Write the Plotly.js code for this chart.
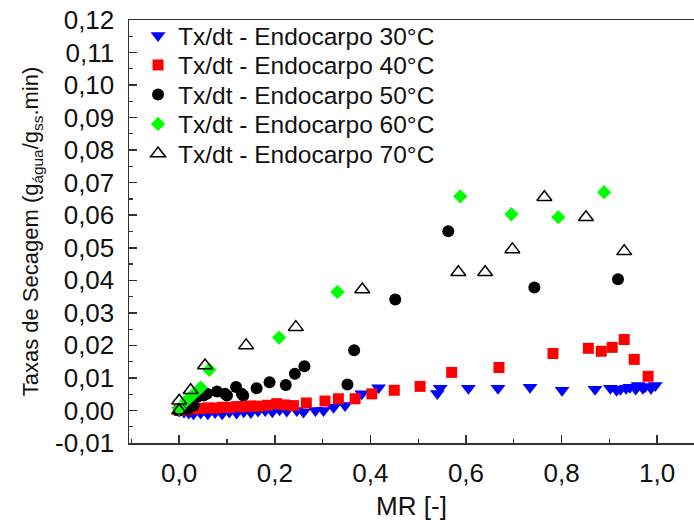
<!DOCTYPE html>
<html><head><meta charset="utf-8">
<script src="https://cdn.plot.ly/plotly-3.0.1.min.js"></script>
<style>html,body{margin:0;padding:0;background:#fff;overflow:hidden}</style>
</head><body><div id="chart" style="width:694px;height:527px"></div>
<script>
// 30°C
const mr30 = [0.000,0.010,0.020,0.030,0.045,0.060,0.075,0.090,0.105,0.120,0.135,0.150,0.165,0.180,0.195,0.210,0.225,0.246,0.260,0.285,0.302,0.323,0.347,0.382,0.417,0.540,0.546,0.605,0.667,0.734,0.801,0.870,0.902,0.915,0.923,0.935,0.943,0.955,0.960,0.970,0.975,0.987,0.996];
const tx30 = [0.0000,-0.0005,-0.0008,-0.0010,-0.0008,-0.0010,-0.0006,-0.0010,-0.0005,-0.0008,-0.0004,-0.0006,-0.0002,0.0000,-0.0004,0.0002,-0.0002,0.0000,-0.0005,0.0000,0.0000,0.0010,0.0015,0.0051,0.0070,0.0052,0.0068,0.0068,0.0068,0.0071,0.0062,0.0065,0.0068,0.0062,0.0065,0.0068,0.0071,0.0066,0.0077,0.0068,0.0074,0.0068,0.0077];
// 40°C
const mr40 = [0.000,0.015,0.030,0.045,0.060,0.075,0.090,0.105,0.120,0.135,0.150,0.165,0.185,0.204,0.220,0.239,0.266,0.305,0.333,0.368,0.403,0.450,0.504,0.570,0.669,0.782,0.856,0.883,0.906,0.931,0.952,0.981];
const tx40 = [0.0000,0.0002,0.0005,0.0006,0.0008,0.0007,0.0010,0.0009,0.0012,0.0011,0.0014,0.0013,0.0016,0.0021,0.0017,0.0015,0.0023,0.0029,0.0036,0.0036,0.0051,0.0062,0.0074,0.0117,0.0132,0.0175,0.0191,0.0182,0.0194,0.0218,0.0157,0.0105];
// 50°C
const mr50 = [0.000,0.019,0.030,0.037,0.051,0.058,0.079,0.096,0.100,0.119,0.131,0.134,0.162,0.189,0.223,0.242,0.262,0.352,0.366,0.452,0.563,0.743,0.918];
const tx50 = [0.0000,0.0005,0.0015,0.0041,0.0046,0.0051,0.0058,0.0051,0.0046,0.0072,0.0051,0.0046,0.0068,0.0087,0.0078,0.0113,0.0136,0.0080,0.0185,0.0341,0.0551,0.0378,0.0403];
// 60°C
const mr60 = [0.000,0.015,0.030,0.045,0.063,0.209,0.331,0.588,0.695,0.793,0.889];
const tx60 = [0.0005,0.0030,0.0050,0.0070,0.0125,0.0224,0.0364,0.0658,0.0603,0.0594,0.0671];
// 70°C
const mr70 = [0.000,0.000,0.024,0.054,0.140,0.244,0.383,0.584,0.640,0.697,0.764,0.851,0.931];
const tx70 = [0.0000,0.0030,0.0062,0.0138,0.0200,0.0256,0.0372,0.0425,0.0425,0.0495,0.0655,0.0594,0.0489];

const seriesNames = ['Tx/dt - Endocarpo 30°C','Tx/dt - Endocarpo 40°C','Tx/dt - Endocarpo 50°C','Tx/dt - Endocarpo 60°C','Tx/dt - Endocarpo 70°C'];
const yTickVals = [-0.01,0.00,0.01,0.02,0.03,0.04,0.05,0.06,0.07,0.08,0.09,0.10,0.11,0.12];
const yTickText = ['-0,01','0,00','0,01','0,02','0,03','0,04','0,05','0,06','0,07','0,08','0,09','0,10','0,11','0,12'];
const xTickVals = [0.0,0.2,0.4,0.6,0.8,1.0];
const xTickText = ['0,0','0,2','0,4','0,6','0,8','1,0'];

const FONT = 'Liberation Sans, Arial, sans-serif';
function tr(x, y, i, marker) {
  return {x: x, y: y, name: seriesNames[i], type: 'scatter', mode: 'markers', marker: marker, legendgroup: 'g' + i, cliponaxis: true};
}
const data = [
  tr(mr30, tx30, 0, {symbol: 'triangle-down', size: 13, color: '#0000ff', line: {width: 0}}),
  tr(mr40, tx40, 1, {symbol: 'square', size: 11, color: '#ff0000', line: {width: 0}}),
  tr(mr50, tx50, 2, {symbol: 'circle', size: 12, color: '#000000', line: {width: 0}}),
  tr(mr60, tx60, 3, {symbol: 'diamond', size: 11, color: '#00ff00', line: {width: 0}}),
  tr(mr70, tx70, 4, {symbol: 'triangle-up-open', size: 13, color: '#000000', line: {width: 1.5, color: '#000000'}})
];
const axisCommon = {
  showgrid: false, zeroline: false, showline: true, linecolor: '#333333', linewidth: 1.5,
  ticks: 'inside', ticklen: 8, tickwidth: 1.5, tickcolor: '#333333',
  tickfont: {family: FONT, size: 26, color: '#111111'}
};
const layout = {
  width: 694, height: 527,
  margin: {l: 129, r: 0, t: 20, b: 84, pad: 0},
  paper_bgcolor: '#ffffff', plot_bgcolor: '#ffffff',
  separators: ',.',
  font: {family: FONT, color: '#111111'},
  showlegend: true,
  legend: {x: 0.016, y: 1.0, xanchor: 'left', yanchor: 'top', bgcolor: 'rgba(0,0,0,0)',
           font: {family: FONT, size: 24.5, color: '#111111'}, tracegroupgap: 0, itemsizing: 'trace'},
  xaxis: Object.assign({}, axisCommon, {
    range: [-0.105, 1.077], tickvals: xTickVals, ticktext: xTickText, mirror: true,
    ticklabelstandoff: 6,
    minor: {dtick: 0.1, tick0: 0, ticks: 'inside', ticklen: 4, tickwidth: 1.2, tickcolor: '#333333'},
    title: {text: 'MR [-]', font: {family: FONT, size: 26, color: '#111111'}, standoff: 10}
  }),
  yaxis: Object.assign({}, axisCommon, {
    range: [-0.01, 0.12], tickvals: yTickVals, ticktext: yTickText, mirror: false,
    ticklabelstandoff: 8,
    minor: {dtick: 0.005, tick0: 0, ticks: 'inside', ticklen: 4, tickwidth: 1.2, tickcolor: '#333333'},
    title: {text: 'Taxas de Secagem (g<sub>água</sub>/g<sub>ss</sub>.min)', font: {family: FONT, size: 22, color: '#111111'}, standoff: 10}
  })
};
Plotly.newPlot('chart', data, layout, {displayModeBar: false, staticPlot: true}).then(function (gd) {
  // tighten legend row spacing to match the reference (~29.5 px per row)
  var items = gd.querySelectorAll('.legend .traces');
  var first = null;
  items.forEach(function (el, i) {
    var m = /translate\(\s*([-\d.]+)[ ,]+([-\d.]+)\s*\)/.exec(el.getAttribute('transform') || '');
    if (!m) return;
    if (first === null) first = [parseFloat(m[1]), parseFloat(m[2])];
    el.setAttribute('transform', 'translate(' + first[0] + ',' + (first[1] - 7 + i * 29.5) + ')');
  });
});
</script></body></html>
